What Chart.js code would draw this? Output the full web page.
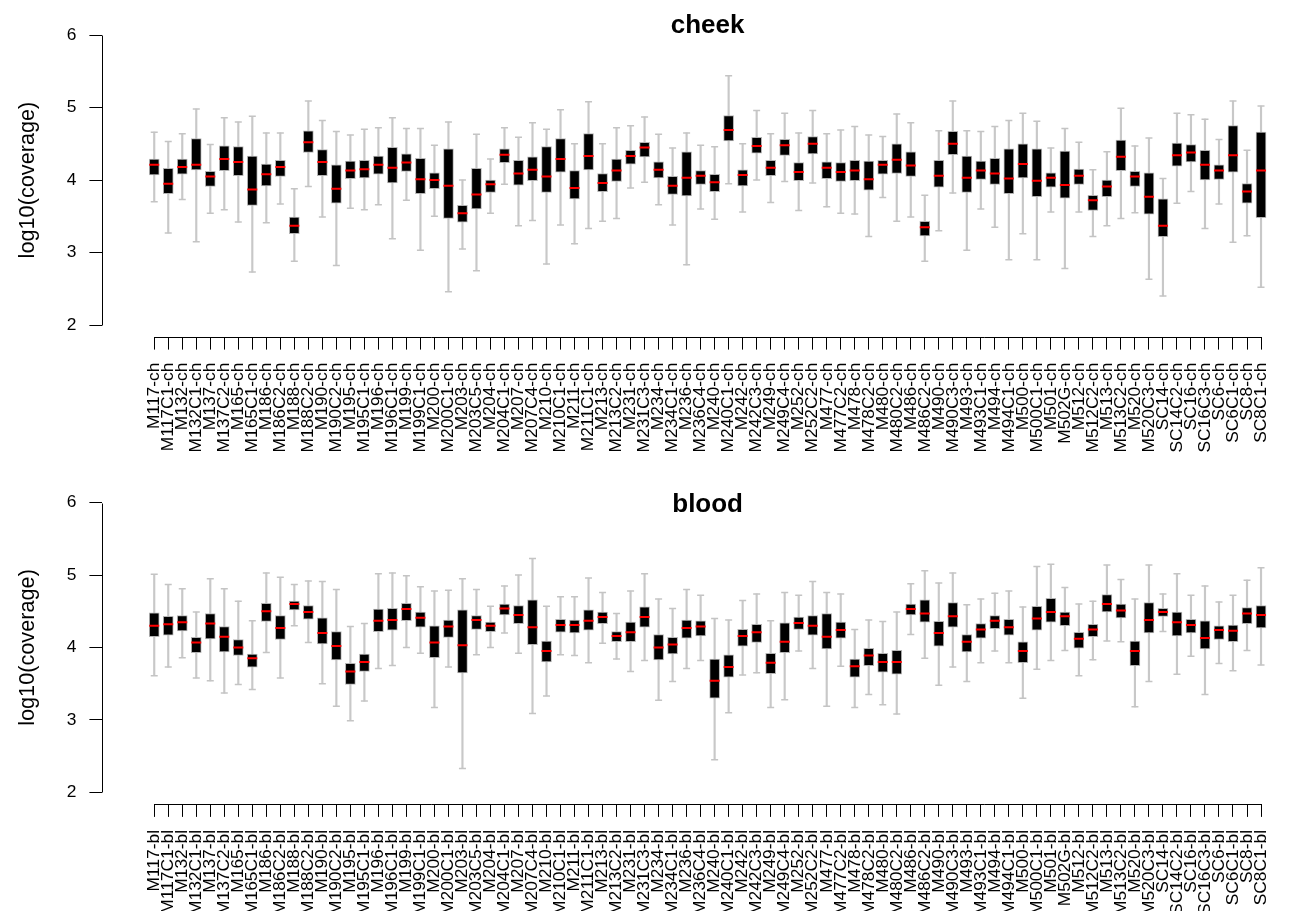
<!DOCTYPE html>
<html>
<head>
<meta charset="utf-8">
<script src="https://cdn.jsdelivr.net/npm/chart.js@4/dist/chart.umd.min.js"></script>
<style>
    body { margin: 0; background: #fff; }
    canvas { display: block; }
</style>
</head>
<body>
<canvas id="cheekChart" width="1295" height="465"></canvas>
<canvas id="bloodChart" width="1295" height="446"></canvas>
<script>
let yTicks = [2, 3, 4, 5, 6];

let samples = ['M117', 'M117C1', 'M132', 'M132C1', 'M137', 'M137C2', 'M165', 'M165C1', 'M186', 'M186C2',
    'M188', 'M188C2', 'M190', 'M190C2', 'M195', 'M195C1', 'M196', 'M196C1', 'M199', 'M199C1',
    'M200', 'M200C1', 'M203', 'M203C5', 'M204', 'M204C1', 'M207', 'M207C4', 'M210', 'M210C1',
    'M211', 'M211C1', 'M213', 'M213C2', 'M231', 'M231C3', 'M234', 'M234C1', 'M236', 'M236C4',
    'M240', 'M240C1', 'M242', 'M242C3', 'M249', 'M249C4', 'M252', 'M252C2', 'M477', 'M477C2',
    'M478', 'M478C2', 'M480', 'M480C2', 'M486', 'M486C2', 'M490', 'M490C3', 'M493', 'M493C1',
    'M494', 'M494C1', 'M500', 'M500C1', 'M501', 'M502G', 'M512', 'M512C2', 'M513', 'M513C2',
    'M520', 'M520C3', 'SC14', 'SC14C2', 'SC16', 'SC16C3', 'SC6', 'SC6C1', 'SC8', 'SC8C1'];

// cheek: upper whisker, Q3, median, Q1, lower whisker
let cheekHigh = [4.66, 4.53, 4.64, 4.98, 4.49, 4.86, 4.80, 4.88, 4.65, 4.65,
    3.88, 5.09, 4.82, 4.67, 4.62, 4.70, 4.72, 4.86, 4.71, 4.71,
    4.48, 4.80, 4.00, 4.63, 4.29, 4.72, 4.59, 4.79, 4.70, 4.97,
    4.50, 5.08, 4.50, 4.72, 4.75, 4.87, 4.63, 4.44, 4.65, 4.48,
    4.46, 5.44, 4.50, 4.96, 4.64, 4.92, 4.65, 4.96, 4.64, 4.69,
    4.74, 4.62, 4.60, 4.91, 4.79, 3.79, 4.68, 5.09, 4.68, 4.67,
    4.74, 4.82, 4.92, 4.81, 4.44, 4.71, 4.52, 4.14, 4.39, 4.99,
    4.47, 4.58, 4.02, 4.92, 4.90, 4.84, 4.56, 5.09, 4.41, 5.02];
let cheekQ3 = [4.29, 4.16, 4.29, 4.57, 4.12, 4.47, 4.46, 4.33, 4.22, 4.27,
    3.49, 4.68, 4.42, 4.21, 4.26, 4.27, 4.33, 4.45, 4.36, 4.30,
    4.10, 4.43, 3.65, 4.16, 4.00, 4.43, 4.27, 4.32, 4.46, 4.57,
    4.13, 4.64, 4.09, 4.29, 4.41, 4.52, 4.25, 4.05, 4.39, 4.13,
    4.08, 4.89, 4.14, 4.59, 4.27, 4.56, 4.24, 4.60, 4.25, 4.24,
    4.27, 4.26, 4.27, 4.50, 4.39, 3.43, 4.27, 4.67, 4.33, 4.26,
    4.30, 4.43, 4.50, 4.43, 4.10, 4.40, 4.15, 3.79, 4.00, 4.55,
    4.12, 4.10, 3.74, 4.51, 4.49, 4.41, 4.21, 4.75, 3.95, 4.66];
let cheekMed = [4.21, 3.95, 4.18, 4.21, 4.05, 4.29, 4.25, 3.87, 4.08, 4.18,
    3.37, 4.52, 4.25, 3.88, 4.13, 4.15, 4.21, 4.17, 4.24, 4.01,
    4.00, 3.92, 3.54, 3.80, 3.94, 4.35, 4.09, 4.14, 4.05, 4.29,
    3.89, 4.33, 3.96, 4.13, 4.33, 4.45, 4.14, 3.92, 4.03, 4.06,
    3.97, 4.69, 4.07, 4.47, 4.17, 4.48, 4.11, 4.50, 4.17, 4.11,
    4.13, 4.01, 4.21, 4.28, 4.20, 3.35, 4.06, 4.50, 4.03, 4.13,
    4.09, 4.02, 4.22, 3.99, 4.03, 3.93, 4.06, 3.72, 3.91, 4.32,
    4.05, 3.77, 3.37, 4.34, 4.38, 4.21, 4.13, 4.34, 3.84, 4.13];
let cheekQ1 = [4.07, 3.81, 4.08, 4.14, 3.91, 4.13, 4.06, 3.65, 3.92, 4.05,
    3.26, 4.38, 4.06, 3.68, 4.02, 4.03, 4.08, 3.96, 4.12, 3.81,
    3.88, 3.47, 3.42, 3.60, 3.83, 4.24, 3.93, 3.99, 3.83, 4.11,
    3.74, 4.14, 3.84, 3.98, 4.22, 4.32, 4.03, 3.80, 3.78, 3.94,
    3.84, 4.54, 3.92, 4.37, 4.06, 4.34, 3.99, 4.36, 4.02, 3.98,
    3.99, 3.86, 4.08, 4.09, 4.05, 3.23, 3.90, 4.35, 3.83, 4.01,
    3.94, 3.81, 4.03, 3.77, 3.90, 3.75, 3.94, 3.58, 3.77, 4.13,
    3.91, 3.53, 3.22, 4.19, 4.25, 4.00, 4.01, 4.11, 3.68, 3.48];
let cheekLow = [3.70, 3.27, 3.73, 3.15, 3.54, 3.59, 3.42, 2.73, 3.41, 3.67,
    2.88, 3.91, 3.49, 2.82, 3.61, 3.59, 3.66, 3.19, 3.72, 3.03,
    3.50, 2.46, 3.05, 2.75, 3.54, 3.94, 3.37, 3.44, 2.84, 3.38,
    3.12, 3.33, 3.43, 3.47, 3.89, 3.97, 3.66, 3.38, 2.83, 3.60,
    3.46, 3.95, 3.56, 4.00, 3.69, 3.98, 3.58, 3.96, 3.63, 3.54,
    3.53, 3.22, 3.76, 3.43, 3.49, 2.88, 3.30, 3.82, 3.03, 3.60,
    3.35, 2.90, 3.26, 2.90, 3.56, 2.78, 3.56, 3.22, 3.37, 3.47,
    3.55, 2.63, 2.40, 3.68, 3.84, 3.33, 3.67, 3.14, 3.23, 2.52];

// blood
let bloodHigh = [5.01, 4.87, 4.81, 4.49, 4.95, 4.81, 4.64, 4.37, 5.03, 4.97,
    4.87, 4.92, 4.91, 4.80, 4.29, 4.33, 5.02, 5.03, 4.99, 4.84,
    4.78, 4.79, 4.95, 4.80, 4.57, 4.85, 5.00, 5.23, 4.57, 4.70,
    4.70, 4.96, 4.76, 4.47, 4.78, 5.02, 4.67, 4.54, 4.80, 4.72,
    4.40, 4.38, 4.65, 4.74, 4.37, 4.76, 4.72, 4.91, 4.76, 4.74,
    4.25, 4.38, 4.36, 4.49, 4.88, 5.06, 4.89, 5.03, 4.59, 4.67,
    4.75, 4.78, 4.56, 5.12, 5.15, 4.83, 4.60, 4.64, 5.14, 4.94,
    4.67, 5.14, 4.74, 5.02, 4.72, 4.85, 4.63, 4.72, 4.93, 5.10];
let bloodQ3 = [4.48, 4.43, 4.44, 4.14, 4.47, 4.29, 4.11, 3.91, 4.61, 4.44,
    4.64, 4.58, 4.41, 4.22, 3.78, 3.91, 4.53, 4.54, 4.61, 4.49,
    4.30, 4.38, 4.52, 4.44, 4.35, 4.60, 4.58, 4.66, 4.09, 4.39,
    4.38, 4.52, 4.49, 4.22, 4.35, 4.56, 4.18, 4.14, 4.38, 4.37,
    3.84, 3.90, 4.25, 4.32, 3.92, 4.34, 4.42, 4.44, 4.47, 4.35,
    3.84, 3.99, 3.92, 3.96, 4.60, 4.66, 4.36, 4.62, 4.18, 4.33,
    4.44, 4.39, 4.08, 4.57, 4.68, 4.49, 4.21, 4.32, 4.73, 4.60,
    4.09, 4.62, 4.54, 4.49, 4.39, 4.37, 4.30, 4.31, 4.55, 4.58];
let bloodMed = [4.30, 4.32, 4.35, 4.07, 4.33, 4.15, 4.00, 3.85, 4.50, 4.27,
    4.60, 4.49, 4.20, 4.02, 3.67, 3.80, 4.37, 4.38, 4.53, 4.41,
    4.07, 4.29, 4.03, 4.38, 4.30, 4.54, 4.45, 4.28, 3.95, 4.31,
    4.31, 4.37, 4.42, 4.16, 4.21, 4.42, 4.00, 4.04, 4.27, 4.29,
    3.54, 3.73, 4.16, 4.21, 3.79, 4.08, 4.34, 4.30, 4.15, 4.24,
    3.74, 3.89, 3.80, 3.80, 4.53, 4.47, 4.20, 4.43, 4.08, 4.25,
    4.37, 4.28, 3.95, 4.40, 4.49, 4.43, 4.12, 4.25, 4.60, 4.51,
    3.95, 4.38, 4.49, 4.35, 4.31, 4.13, 4.24, 4.23, 4.47, 4.45];
let bloodQ1 = [4.15, 4.17, 4.23, 3.93, 4.12, 3.94, 3.89, 3.73, 4.36, 4.11,
    4.52, 4.39, 4.05, 3.83, 3.49, 3.67, 4.22, 4.24, 4.37, 4.28,
    3.86, 4.14, 3.65, 4.25, 4.22, 4.45, 4.33, 4.04, 3.80, 4.21,
    4.20, 4.24, 4.33, 4.08, 4.08, 4.28, 3.83, 3.91, 4.13, 4.16,
    3.30, 3.59, 4.02, 4.07, 3.64, 3.93, 4.25, 4.17, 3.98, 4.13,
    3.59, 3.75, 3.66, 3.63, 4.45, 4.35, 4.02, 4.28, 3.94, 4.13,
    4.26, 4.17, 3.79, 4.24, 4.35, 4.30, 3.99, 4.15, 4.49, 4.41,
    3.75, 4.20, 4.43, 4.16, 4.20, 3.98, 4.11, 4.08, 4.33, 4.27];
let bloodLow = [3.61, 3.73, 3.86, 3.58, 3.54, 3.37, 3.49, 3.42, 3.93, 3.58,
    4.30, 4.07, 3.50, 3.19, 2.99, 3.26, 3.71, 3.75, 4.00, 3.92,
    3.17, 3.73, 2.33, 3.90, 4.00, 4.20, 3.92, 3.09, 3.33, 3.90,
    3.89, 3.79, 4.06, 3.84, 3.67, 3.82, 3.27, 3.53, 3.71, 3.82,
    2.45, 3.10, 3.62, 3.65, 3.17, 3.28, 3.95, 3.71, 3.19, 3.74,
    3.17, 3.35, 3.21, 3.08, 4.18, 3.85, 3.48, 3.73, 3.53, 3.79,
    3.95, 3.79, 3.30, 3.70, 3.82, 3.96, 3.61, 3.83, 4.09, 4.08,
    3.18, 3.53, 4.22, 3.63, 3.88, 3.35, 3.78, 3.68, 3.96, 3.76];

Chart.defaults.font.family = '"Liberation Sans", Arial, sans-serif';
Chart.defaults.color = '#000';

// R style axes: lines only from first to last tick, title over the plot region
let rAxes = {
    id: 'rAxes',
    afterDraw: function (chart, args, opts) {
        let ctx = chart.ctx;
        let x = chart.scales.x, y = chart.scales.y;
        let left = Math.round(chart.chartArea.left) + 0.5;
        let bottom = Math.round(chart.chartArea.bottom) + 0.5;
        ctx.save();
        ctx.strokeStyle = '#000';
        ctx.lineWidth = 1;
        ctx.beginPath();
        ctx.moveTo(left, Math.round(y.getPixelForValue(yTicks[0])) + 0.5);
        ctx.lineTo(left, Math.round(y.getPixelForValue(yTicks[yTicks.length - 1])) + 0.5);
        ctx.moveTo(Math.round(x.getPixelForValue(1)) + 0.5, bottom);
        ctx.lineTo(Math.round(x.getPixelForValue(samples.length)) + 0.5, bottom);
        ctx.stroke();
        ctx.font = 'bold 26px "Liberation Sans", Arial, sans-serif';
        ctx.fillStyle = '#000';
        ctx.textAlign = 'center';
        ctx.textBaseline = 'alphabetic';
        ctx.fillText(opts.text, x.getPixelForValue((samples.length + 1) / 2), opts.baseline);
        ctx.restore();
    }
};

let boxPanelDraw = function (canvasId, title, suffix, low, q1, med, q3, high, lay) {
    let labels = samples.map(s => s + suffix);
    let xs = samples.map((s, i) => i + 1);
    let painter = document.getElementById(canvasId).getContext('2d');

    return new Chart(painter, {
        type: 'bar',
        data: {
            datasets: [{
                type: 'line',
                data: xs.map((x, i) => ({ x: x, y: med[i] })),
                showLine: false,
                pointStyle: 'line',
                pointRadius: 5,
                pointBorderWidth: 2,
                pointBorderColor: '#ff0000',
                order: 0,
            }, {
                data: xs.map((x, i) => ({ x: x, y: [q1[i], q3[i]] })),
                backgroundColor: '#000',
                borderColor: '#b4b4b4',
                borderWidth: 1,
                borderSkipped: false,
                barThickness: 10,
                grouped: false,
                order: 1,
            }, {
                type: 'line',
                data: xs.map((x, i) => ({ x: x, y: high[i] })),
                showLine: false,
                pointStyle: 'line',
                pointRadius: 3.5,
                pointBorderWidth: 1.5,
                pointBorderColor: '#c4c4c4',
                order: 2,
            }, {
                type: 'line',
                data: xs.map((x, i) => ({ x: x, y: low[i] })),
                showLine: false,
                pointStyle: 'line',
                pointRadius: 3.5,
                pointBorderWidth: 1.5,
                pointBorderColor: '#c4c4c4',
                order: 2,
            }, {
                data: xs.map((x, i) => ({ x: x, y: [low[i], high[i]] })),
                backgroundColor: '#c8c8c8',
                borderWidth: 0,
                barThickness: 1.5,
                grouped: false,
                order: 3,
            }]
        },
        options: {
            responsive: false,
            animation: false,
            events: [],
            layout: { padding: { top: lay.top, left: 0, right: 0, bottom: 0 } },
            scales: {
                x: {
                    type: 'linear',
                    min: -2.7,
                    max: 81.25,
                    offset: false,
                    afterBuildTicks: axis => { axis.ticks = xs.map(v => ({ value: v })); },
                    afterFit: axis => { axis.height = lay.xHeight; },
                    border: { display: false },
                    grid: { offset: false, drawOnChartArea: false, drawTicks: true, tickLength: 13, color: '#000' },
                    ticks: {
                        autoSkip: false,
                        minRotation: 90,
                        maxRotation: 90,
                        padding: 13,
                        font: { size: 17.4 },
                        callback: v => labels[v - 1],
                    },
                },
                y: {
                    min: 1.84,
                    max: 6.16,
                    afterBuildTicks: axis => { axis.ticks = yTicks.map(v => ({ value: v })); },
                    afterFit: axis => { axis.width = 102.4; },
                    border: { display: false },
                    grid: { drawOnChartArea: false, drawTicks: true, tickLength: 13, color: '#000' },
                    ticks: { padding: 13, font: { size: 17.4 } },
                    title: {
                        display: true,
                        text: 'log10(coverage)',
                        font: { size: 21.7 },
                        padding: { top: 15, bottom: 0 },
                    },
                },
            },
            plugins: {
                legend: { display: false },
                tooltip: { enabled: false },
                rAxes: { text: title, baseline: lay.baseline },
            },
        },
        plugins: [rAxes],
    });
};

window.onload = function () {
    boxPanelDraw('cheekChart', 'cheek', '-ch', cheekLow, cheekQ1, cheekMed, cheekQ3, cheekHigh,
        { top: 23.4, xHeight: 128.4, baseline: 32.5 });
    boxPanelDraw('bloodChart', 'blood', '-bl', bloodLow, bloodQ1, bloodMed, bloodQ3, bloodHigh,
        { top: 26.1, xHeight: 107.1, baseline: 47 });
};
</script>
</body>
</html>
